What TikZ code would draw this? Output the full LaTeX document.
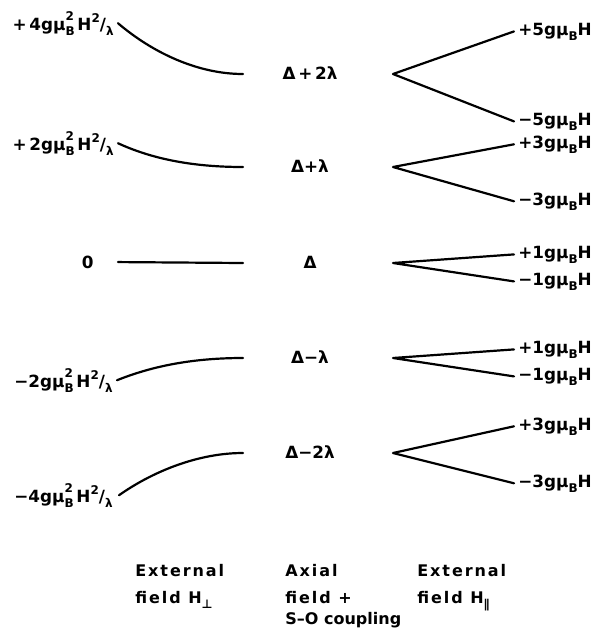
\documentclass[tikz,border=0pt]{standalone}
\usepackage{fontspec}
\setmainfont{DejaVu Sans}
\newfontfamily\spacedfont[LetterSpace=12]{DejaVu Sans}
% small raised / lowered pieces of the labels
\newcommand{\lowr}[1]{\raisebox{-0.55ex}{\fontsize{6}{6}\selectfont #1}}
\newcommand{\highr}[1]{\raisebox{0.85ex}{\fontsize{6}{6}\selectfont #1}}
\newcommand{\lowhigh}[2]{\raisebox{-0.55ex}{\fontsize{6}{6.2}\selectfont\shortstack[l]{#2\\#1}}}
\begin{document}
\begin{tikzpicture}[x=0.5pt,y=-0.5pt,
  level/.style={line width=1.1pt,line cap=round,line join=round},
  lab/.style={font=\bfseries\fontsize{8.4}{10}\selectfont,inner sep=0pt},
  foot/.style={font=\spacedfont\bfseries\fontsize{8}{13.5}\selectfont,inner sep=0pt,align=left,anchor=north west}]
\useasboundingbox (0,0) rectangle (605,628);
% level positions
\foreach \i/\y in {1/74,2/167,3/263,4/358,5/453}{
  \coordinate (e\i) at (243,\y);
  \coordinate (v\i) at (393,\y);
}
% middle column
\foreach \i/\y/\t in {1/79/{Δ\,+\,2λ},2/172/{Δ+λ},3/268/Δ,4/363/{Δ−λ},5/458/{Δ−2λ}}{
  \node[lab,anchor=base] (c\i) at (310,\y) {\t};
}
% perpendicular field
\node[lab,anchor=base east] (l1) at (114,30) {+\,4gμ\lowhigh{B}{2}\,H\highr{2}/\lowr{λ}};
\node[lab,anchor=base east] (l2) at (114,150) {+\,2gμ\lowhigh{B}{2}\,H\highr{2}/\lowr{λ}};
\node[lab,anchor=base east] (l3) at (94,268) {0};
\node[lab,anchor=base east] (l4) at (113,387) {−2gμ\lowhigh{B}{2}\,H\highr{2}/\lowr{λ}};
\node[lab,anchor=base east] (l5) at (113,502) {−4gμ\lowhigh{B}{2}\,H\highr{2}/\lowr{λ}};
\draw[level] ([xshift=2pt]l1.east) .. controls (153,53) and (198,74) .. (e1);
\draw[level] ([xshift=2pt]l2.east) .. controls (150,158) and (190,167) .. (e2);
\draw[level,shorten <=12pt] (l3.east) -- (e3);
\draw[level] ([xshift=2pt]l4.east) .. controls (150,367) and (190,358) .. (e4);
\draw[level] ([xshift=3pt]l5.east) .. controls (155,470) and (200,453) .. (e5);
% parallel field
\foreach \i/\ya/\ta/\yb/\tb in {1/35/+5/125/−5,2/148/+3/205/−3,3/258/+1/285/−1,4/353/+1/380/−1,5/430/+3/487/−3}{
  \node[lab,anchor=base west] (r\i a) at (518,\ya) {\ta gμ\lowr{B}H};
  \node[lab,anchor=base west] (r\i b) at (518,\yb) {\tb gμ\lowr{B}H};
  \draw[level] ([xshift=-2pt]r\i a.west) -- (v\i) -- ([xshift=-2pt]r\i b.west);
}
% column titles
\node[foot] (t1) at (135,564) {External\\field H\lowr{⊥}};
\node[foot] (t2) at (285,564) {Axial\\field +\\[-3pt]{\fontspec{DejaVu Sans}S–O coupling}};
\node[foot] (t3) at (417,564) {External\\field H\lowr{∥}};
\end{tikzpicture}
\end{document}
